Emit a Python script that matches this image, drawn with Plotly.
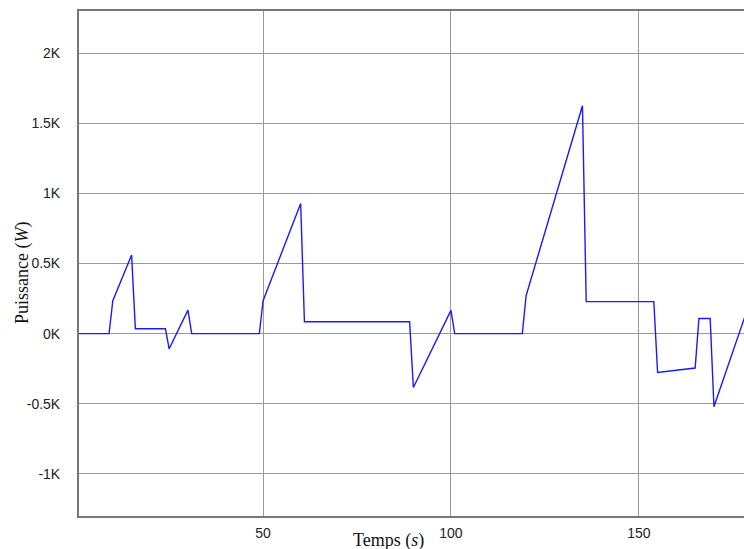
import plotly.graph_objects as go

# Data
temps = [1, 9, 10, 15, 16, 24, 25, 30, 31, 41, 49, 50, 60, 61, 89, 90, 100, 101,
         119, 120, 135, 136, 154, 155, 165, 166, 169, 170, 180]
puissance = [0, 0, 235, 560, 35, 35, -108, 168, 0, 0, 0, 235, 927, 85, 85, -384, 166, 0,
             0, 270, 1625, 228, 228, -277, -245, 108, 108, -521, 259]

y_tickvals = [-1000, -500, 0, 500, 1000, 1500, 2000]
y_ticktext = ["-1K", "-0.5K", "0K", "0.5K", "1K", "1.5K", "2K"]
x_tickvals = [50, 100, 150]
x_ticktext = ["50", "100", "150"]

fig = go.Figure()
fig.add_trace(go.Scatter(
    x=temps, y=puissance, mode="lines",
    line=dict(color="#1a1aff", width=1.4),
    hoverinfo="skip", showlegend=False,
))

fig.update_layout(
    width=744, height=549,
    margin=dict(l=79, r=0, t=11, b=33),
    paper_bgcolor="white", plot_bgcolor="white",
    font=dict(family="Liberation Sans, Arial, sans-serif", size=14, color="#222"),
    xaxis=dict(
        range=[1, 178], tickvals=x_tickvals, ticktext=x_ticktext,
        showgrid=True, gridcolor="#999", gridwidth=1,
        showline=True, linecolor="#777", linewidth=2, mirror=True,
        zeroline=False, ticks="", ticklabelstandoff=3,
    ),
    yaxis=dict(
        range=[-1300, 2300], tickvals=y_tickvals, ticktext=y_ticktext,
        showgrid=True, gridcolor="#999", gridwidth=1,
        showline=True, linecolor="#777", linewidth=2,
        zeroline=False, ticks="", ticklabelstandoff=14,
    ),
    annotations=[
        dict(text="Temps (<i>s</i>)", xref="paper", yref="paper",
             x=(388 - 79) / 665, y=-(540 - 516) / 505, xanchor="center", yanchor="middle",
             showarrow=False, font=dict(family="Liberation Serif, Times New Roman, serif", size=18, color="#111")),
        dict(text="Puissance (<i>W</i>)", xref="paper", yref="paper",
             x=-(79 - 22) / 665, y=(516 - 273) / 505, xanchor="center", yanchor="middle",
             textangle=-90,
             showarrow=False, font=dict(family="Liberation Serif, Times New Roman, serif", size=18, color="#111")),
    ],
)

fig.write_html(
    "out.html",
    config={"displayModeBar": False},
    post_script="document.body.style.margin='0';document.body.style.overflow='hidden';",
)
